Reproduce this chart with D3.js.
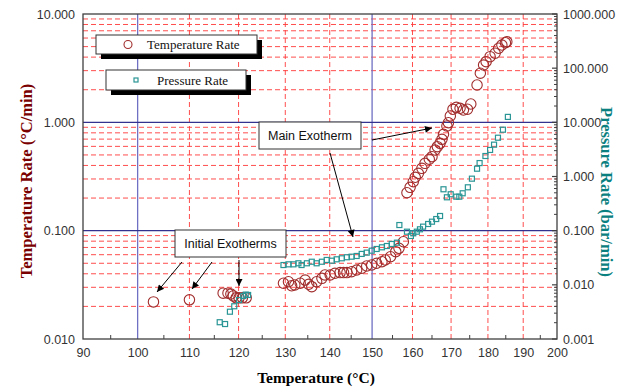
<!DOCTYPE html>
<html>
<head>
<meta charset="utf-8">
<script src="https://cdn.jsdelivr.net/npm/d3@7"></script>
<style>
  html, body { margin: 0; padding: 0; background: #fff; }
  svg { display: block; }
</style>
</head>
<body>
<div id="chart"></div>
<script>
// ---------------- DATA ----------------
const xTickValues = [90, 100, 110, 120, 130, 140, 150, 160, 170, 180, 190, 200];
const xMinorTicks = [95, 105, 115, 125, 135, 145, 155, 165, 175, 185, 195];
const leftTickValues = [0.01, 0.1, 1, 10];
const leftTickLabels = ["0.010", "0.100", "1.000", "10.000"];
const rightTickValues = [0.001, 0.01, 0.1, 1, 10, 100, 1000];
const rightTickLabels = ["0.001", "0.010", "0.100", "1.000", "10.000", "100.000", "1000.000"];

// Temperature rate (°C/min) vs temperature (°C)
const tempRateT = [
  103.0, 110.0,
  116.8, 117.8, 118.4, 118.9, 119.5, 120.1, 120.8, 121.6,
  129.6, 130.7, 131.4, 132.1, 133.3, 134.4, 135.2, 135.9, 137.0, 138.2, 138.9, 140.1, 141.2,
  142.4, 143.2, 144.0, 145.1, 146.3, 147.5, 148.7, 149.9, 151.1, 152.4, 153.2, 154.5,
  155.8, 156.6, 157.7,
  158.6, 159.4, 160.2, 160.7, 161.5, 162.4, 163.2, 164.3, 165.0, 165.8, 166.4, 167.1,
  167.6, 168.0, 168.9, 169.3, 169.8, 170.5, 171.4, 172.4, 173.3, 174.4, 175.3,
  177.0, 177.9, 178.8, 179.5, 180.6, 182.0, 183.0, 183.9, 184.9, 185.3
];
const tempRateV = [
  0.022, 0.023,
  0.0265, 0.0265, 0.026, 0.025, 0.024, 0.024, 0.024, 0.024,
  0.0327, 0.0338, 0.031, 0.0315, 0.0327, 0.035, 0.032, 0.0304, 0.0338, 0.0363, 0.039, 0.039, 0.0404,
  0.041, 0.041, 0.041, 0.0418, 0.0433, 0.045, 0.0472, 0.0482, 0.050, 0.0517, 0.0536, 0.0575,
  0.064, 0.0687, 0.079,
  0.224, 0.251, 0.283, 0.311, 0.338, 0.376, 0.418, 0.456, 0.482, 0.555, 0.596, 0.640,
  0.697, 0.775, 0.925, 0.992, 1.144, 1.319, 1.376, 1.348, 1.30, 1.32, 1.476,
  2.21, 2.84, 3.38, 3.63, 4.04, 4.34, 4.83, 5.17, 5.43, 5.55
];

// Pressure rate (bar/min) vs temperature (°C)
const pressRateT = [
  116.1, 117.2, 118.2, 119.1, 120.1, 121.0, 121.5, 122.0,
  129.6, 130.7, 131.8, 132.9, 133.6, 134.8, 135.9, 137.0, 138.2, 139.3, 140.5, 141.6, 142.8,
  144.0, 145.1, 146.3, 147.5, 148.7, 149.9, 151.1, 152.4, 153.6, 154.8, 156.1,
  156.7, 158.6, 159.6, 160.2, 161.1, 161.9, 162.7, 164.0, 165.0, 166.1, 167.1,
  168.0, 168.9, 169.9, 171.4, 172.2, 173.1, 174.5, 175.6, 177.0, 177.7, 179.3, 180.6,
  181.7, 182.8, 184.2, 185.6
];
const pressRateV = [
  0.00204, 0.00189, 0.00319, 0.00402, 0.00525, 0.00622, 0.0066, 0.0065,
  0.0232, 0.0239, 0.0239, 0.025, 0.0232, 0.025, 0.0267, 0.025, 0.0267, 0.0288, 0.0279, 0.0296, 0.0309,
  0.0323, 0.0331, 0.0341, 0.0372, 0.0393, 0.0427, 0.0459, 0.0493, 0.0521, 0.0568, 0.060,
  0.127, 0.0957, 0.0798, 0.0895, 0.0957, 0.106, 0.1186, 0.1328, 0.1465, 0.164, 0.1866,
  0.581, 0.413, 0.470, 0.424, 0.424, 0.490, 0.632, 0.912, 1.393, 1.77, 2.39, 3.09,
  3.87, 5.2, 7.31, 12.6
];

// ---------------- CHART ----------------
const W = 625, H = 389;
const plot = { left: 83, right: 557, top: 14, bottom: 339 };

const svg = d3.select("#chart").append("svg")
  .attr("width", W).attr("height", H)
  .attr("viewBox", `0 0 ${W} ${H}`);

// X axis: linear in -1/T(K) (Arrhenius-style), labelled in °C
const invT = t => -1 / (t + 273.15);
const xLin = d3.scaleLinear()
  .domain([invT(90), invT(200)])
  .range([plot.left, plot.right]);
const x = t => xLin(invT(t));

const yL = d3.scaleLog().domain([0.01, 10]).range([plot.bottom, plot.top]);
const yR = d3.scaleLog().domain([0.001, 1000]).range([plot.bottom, plot.top]);

const defs = svg.append("defs");
defs.append("marker")
  .attr("id", "arrow")
  .attr("viewBox", "0 0 10 10")
  .attr("refX", 10).attr("refY", 5)
  .attr("markerWidth", 11).attr("markerHeight", 7)
  .attr("markerUnits", "userSpaceOnUse")
  .attr("orient", "auto")
  .append("path").attr("d", "M0,0 L10,5 L0,10 Z").attr("fill", "#000");

const grid = svg.append("g");

// Horizontal minor grid (left axis 2..9 per decade)
const minorY = [];
[0.01, 0.1, 1].forEach(dec => { for (let k = 2; k <= 9; k++) minorY.push(dec * k); });
grid.selectAll("line.hminor").data(minorY).join("line")
  .attr("x1", plot.left).attr("x2", plot.right)
  .attr("y1", d => yL(d)).attr("y2", d => yL(d))
  .attr("stroke", "#ff3b3b").attr("stroke-width", 1)
  .attr("stroke-dasharray", "5,3").attr("opacity", 0.9);

// Vertical red dashed grid
const vRed = xTickValues.filter(t => t !== 90 && t !== 200 && t !== 100 && t !== 150);
grid.selectAll("line.vred").data(vRed).join("line")
  .attr("x1", d => x(d)).attr("x2", d => x(d))
  .attr("y1", plot.top).attr("y2", plot.bottom)
  .attr("stroke", "#ff3b3b").attr("stroke-width", 1)
  .attr("stroke-dasharray", "5,3").attr("opacity", 0.9);

// Blue major lines
grid.selectAll("line.vblue").data([100, 150]).join("line")
  .attr("x1", d => x(d)).attr("x2", d => x(d))
  .attr("y1", plot.top).attr("y2", plot.bottom)
  .attr("stroke", "#6f6fc4").attr("stroke-width", 1.3);
grid.selectAll("line.hblue").data([0.1, 1]).join("line")
  .attr("x1", plot.left).attr("x2", plot.right)
  .attr("y1", d => yL(d)).attr("y2", d => yL(d))
  .attr("stroke", "#33338f").attr("stroke-width", 1.3);

// Frame
svg.append("rect")
  .attr("x", plot.left).attr("y", plot.top)
  .attr("width", plot.right - plot.left).attr("height", plot.bottom - plot.top)
  .attr("fill", "none").attr("stroke", "#404040").attr("stroke-width", 1.3);

// Bottom minor ticks (inside)
svg.append("g").selectAll("line").data(xMinorTicks).join("line")
  .attr("x1", d => x(d)).attr("x2", d => x(d))
  .attr("y1", plot.bottom).attr("y2", plot.bottom - 4)
  .attr("stroke", "#404040").attr("stroke-width", 1);

// Right axis ticks (inside)
const rightMinor = [];
rightTickValues.slice(0, -1).forEach(dec => { for (let k = 2; k <= 9; k++) rightMinor.push(dec * k); });
svg.append("g").selectAll("line").data(rightMinor).join("line")
  .attr("x1", plot.right).attr("x2", plot.right - 3)
  .attr("y1", d => yR(d)).attr("y2", d => yR(d))
  .attr("stroke", "#404040").attr("stroke-width", 1);
svg.append("g").selectAll("line").data(rightTickValues).join("line")
  .attr("x1", plot.right).attr("x2", plot.right - 5)
  .attr("y1", d => yR(d)).attr("y2", d => yR(d))
  .attr("stroke", "#404040").attr("stroke-width", 1.2);

// Axis labels using d3 axes
const labelFont = "'Liberation Sans', Arial, sans-serif";
const xAxis = d3.axisBottom(xLin)
  .tickValues(xTickValues.map(invT))
  .tickFormat((d, i) => xTickValues[i])
  .tickSize(0).tickPadding(9);
const gx = svg.append("g").attr("transform", `translate(0,${plot.bottom})`).call(xAxis);
gx.select(".domain").remove();
gx.selectAll("text").attr("font-family", labelFont).attr("font-size", 12.5).attr("fill", "#333");

const yAxisL = d3.axisLeft(yL).tickValues(leftTickValues)
  .tickFormat((d, i) => leftTickLabels[i]).tickSize(0).tickPadding(8);
const gyl = svg.append("g").attr("transform", `translate(${plot.left},0)`).call(yAxisL);
gyl.select(".domain").remove();
gyl.selectAll("text").attr("font-family", labelFont).attr("font-size", 12.5).attr("fill", "#333");

const yAxisR = d3.axisRight(yR).tickValues(rightTickValues)
  .tickFormat((d, i) => rightTickLabels[i]).tickSize(0).tickPadding(6);
const gyr = svg.append("g").attr("transform", `translate(${plot.right},0)`).call(yAxisR);
gyr.select(".domain").remove();
gyr.selectAll("text").attr("font-family", labelFont).attr("font-size", 12.5).attr("fill", "#333");

// Axis titles
const titleFont = "'Liberation Serif', 'Times New Roman', serif";
svg.append("text")
  .attr("x", 316).attr("y", 383)
  .attr("text-anchor", "middle")
  .attr("font-family", titleFont).attr("font-weight", "bold").attr("font-size", 15.5)
  .attr("fill", "#000").text("Temperature (°C)");
svg.append("text")
  .attr("transform", "translate(32,181) rotate(-90)")
  .attr("text-anchor", "middle")
  .attr("font-family", titleFont).attr("font-weight", "bold").attr("font-size", 16.5)
  .attr("fill", "#7a0000").text("Temperature Rate (°C/min)");
svg.append("text")
  .attr("transform", "translate(601,192) rotate(90)")
  .attr("text-anchor", "middle")
  .attr("font-family", titleFont).attr("font-weight", "bold").attr("font-size", 16.5)
  .attr("fill", "#0a8080").text("Pressure Rate (bar/min)");

// Data points
const tempPts = tempRateT.map((t, i) => ({ t, v: tempRateV[i] }));
const pressPts = pressRateT.map((t, i) => ({ t, v: pressRateV[i] }));

svg.append("g").selectAll("circle").data(tempPts).join("circle")
  .attr("cx", d => x(d.t)).attr("cy", d => yL(d.v)).attr("r", 5.2)
  .attr("fill", "none").attr("stroke", "#a02c2c").attr("stroke-width", 1.1);

const sq = 5;
svg.append("g").selectAll("rect").data(pressPts).join("rect")
  .attr("x", d => x(d.t) - sq / 2).attr("y", d => yR(d.v) - sq / 2)
  .attr("width", sq).attr("height", sq)
  .attr("fill", "none").attr("stroke", "#2a9595").attr("stroke-width", 1.2);

// Legend boxes with shadow
const legFont = "'Liberation Serif', 'Times New Roman', serif";
function legendBox(bx, by, bw, bh, label, symbol, symX, textX) {
  const g = svg.append("g");
  g.append("rect").attr("x", bx + 5).attr("y", by + 5).attr("width", bw).attr("height", bh).attr("fill", "#000");
  g.append("rect").attr("x", bx).attr("y", by).attr("width", bw).attr("height", bh)
    .attr("fill", "#fff").attr("stroke", "#333").attr("stroke-width", 1);
  const cy = by + bh / 2;
  if (symbol === "circle") {
    g.append("circle").attr("cx", symX).attr("cy", cy).attr("r", 4)
      .attr("fill", "none").attr("stroke", "#a02c2c").attr("stroke-width", 1.1);
  } else {
    g.append("rect").attr("x", symX - 2).attr("y", cy - 2).attr("width", 4).attr("height", 4)
      .attr("fill", "none").attr("stroke", "#2a9595").attr("stroke-width", 1.2);
  }
  g.append("text").attr("x", textX).attr("y", cy + 4.5)
    .attr("font-family", legFont).attr("font-size", 13).attr("fill", "#111").text(label);
}
legendBox(96, 35, 161, 19, "Temperature Rate", "circle", 128, 147);
legendBox(106, 70, 140, 20, "Pressure Rate", "square", 136, 157);

// Annotations
const annFont = "'Liberation Sans', Arial, sans-serif";
function annBox(bx, by, bw, bh, label) {
  svg.append("rect").attr("x", bx).attr("y", by).attr("width", bw).attr("height", bh)
    .attr("fill", "#fff").attr("stroke", "#333").attr("stroke-width", 1);
  svg.append("text").attr("x", bx + bw / 2).attr("y", by + bh / 2 + 4.5)
    .attr("text-anchor", "middle")
    .attr("font-family", annFont).attr("font-size", 12.5).attr("fill", "#111").text(label);
}
function arrow(x1, y1, x2, y2) {
  svg.append("line").attr("x1", x1).attr("y1", y1).attr("x2", x2).attr("y2", y2)
    .attr("stroke", "#000").attr("stroke-width", 1).attr("marker-end", "url(#arrow)");
}
annBox(259, 122, 102, 27, "Main Exotherm");
arrow(372, 140, 432, 128);
arrow(330, 153, 353, 237);

annBox(175, 230, 111, 27, "Initial Exotherms");
arrow(182, 262, 157, 292);
arrow(212, 262, 192, 289);
arrow(239, 260, 239, 286);
</script>
</body>
</html>
